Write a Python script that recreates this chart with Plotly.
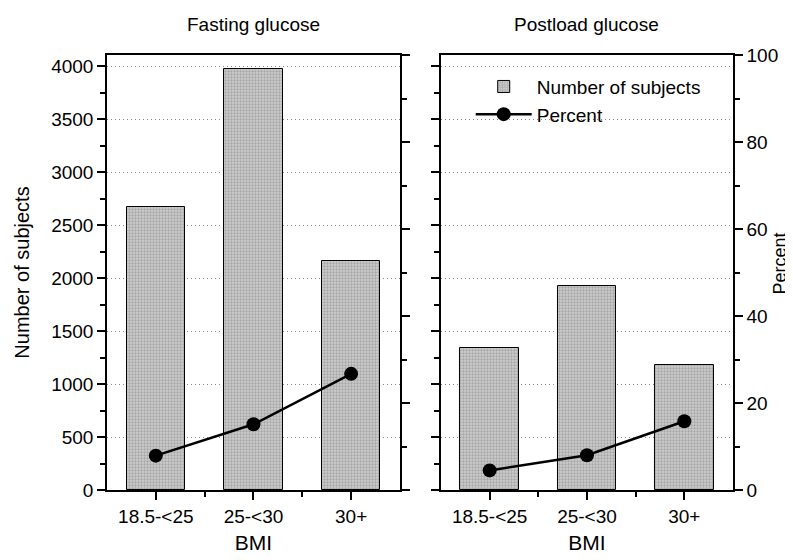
import plotly.graph_objects as go

categories = ["18.5-<25", "25-<30", "30+"]
panel_titles = ["Fasting glucose", "Postload glucose"]
counts_fasting = [2670, 3970, 2165]
counts_postload = [1340, 1925, 1180]
pct_fasting = [7.9, 15.1, 26.7]
pct_postload = [4.5, 8.0, 15.8]

xpos = list(range(len(categories)))
FONT = "Arial, Liberation Sans, sans-serif"

bar_marker = dict(
    color="#c8c8c8",
    line=dict(color="black", width=1),
    pattern=dict(shape=".", fgcolor="#7c7c7c", bgcolor="#cecece", size=3, solidity=0.45),
)
line_style = dict(color="black", width=2.5)
mk_style = dict(color="black", size=14, symbol="circle")

fig = go.Figure()
fig.add_trace(go.Bar(x=xpos, y=counts_fasting, width=0.6, marker=bar_marker,
                     name="Number of subjects", xaxis="x", yaxis="y"))
fig.add_trace(go.Scatter(x=xpos, y=pct_fasting, mode="lines+markers", line=line_style,
                         marker=mk_style, name="Percent", xaxis="x", yaxis="y2"))
fig.add_trace(go.Bar(x=xpos, y=counts_postload, width=0.6, marker=bar_marker,
                     name="Number of subjects", xaxis="x2", yaxis="y3", showlegend=False))
fig.add_trace(go.Scatter(x=xpos, y=pct_postload, mode="lines+markers", line=line_style,
                         marker=mk_style, name="Percent", xaxis="x2", yaxis="y4", showlegend=False))

tickfont = dict(family=FONT, size=19, color="black")
xcommon = dict(
    range=[-0.5, 2.5], tickmode="array", tickvals=xpos, ticktext=categories,
    ticks="outside", ticklen=8, tickwidth=1.5, tickcolor="black",
    showline=True, linecolor="black", linewidth=1.5, mirror=True,
    showgrid=False, zeroline=False, tickfont=tickfont, automargin=False,
    minor=dict(tickmode="array", tickvals=[0.5, 1.5], ticks="outside", ticklen=5,
               tickwidth=1.5, tickcolor="black", showgrid=False),
    title=dict(text="BMI", font=dict(family=FONT, size=21, color="black"), standoff=10),
)
xtop = dict(
    range=[-0.5, 2.5], tickmode="array", tickvals=xpos, showticklabels=False,
    ticks="inside", ticklen=8, tickwidth=1.5, tickcolor="black",
    showline=False, showgrid=False, zeroline=False, automargin=False, side="top",
    minor=dict(tickmode="array", tickvals=[0.5, 1.5], ticks="inside", ticklen=5,
               tickwidth=1.5, tickcolor="black", showgrid=False),
)
count_axis = dict(
    range=[0, 4104], tick0=0, dtick=500, ticks="outside", ticklen=8, tickwidth=1.5,
    tickcolor="black", showline=True, linecolor="black", linewidth=1.5,
    showgrid=True, gridcolor="#8a8a8a", griddash="1px,3px", gridwidth=1,
    zeroline=False, tickfont=tickfont, automargin=False,
    minor=dict(dtick=250, ticks="outside", ticklen=5, tickwidth=1.5, tickcolor="black", showgrid=False),
)
pct_axis = dict(
    range=[0, 100], tick0=0, dtick=20, ticks="outside", ticklen=8, tickwidth=1.5,
    tickcolor="black", showline=True, linecolor="black", linewidth=1.5,
    showgrid=False, zeroline=False, tickfont=tickfont, automargin=False,
    minor=dict(dtick=10, ticks="outside", ticklen=5, tickwidth=1.5, tickcolor="black", showgrid=False),
)

fig.update_layout(
    width=793, height=560,
    margin=dict(l=99, r=68, t=47, b=78, autoexpand=False),
    paper_bgcolor="white", plot_bgcolor="white",
    font=dict(family=FONT, size=19, color="black"),
    bargap=0,
    xaxis=dict(domain=[0, 0.468], anchor="y", **xcommon),
    xaxis2=dict(domain=[0.5335, 1], anchor="y3", **xcommon),
    xaxis3=dict(overlaying="x", anchor="y", **xtop),
    xaxis4=dict(overlaying="x2", anchor="y3", **xtop),
    yaxis=dict(anchor="x", side="left",
               title=dict(text="Number of subjects", font=dict(family=FONT, size=20, color="black"), standoff=16),
               **count_axis),
    yaxis2=dict(anchor="x", overlaying="y", side="right", showticklabels=False, **pct_axis),
    yaxis3=dict(anchor="x2", side="left", showticklabels=False, **count_axis),
    yaxis4=dict(anchor="x2", overlaying="y3", side="right", **pct_axis),
    legend=dict(x=0.581, y=0.971, xanchor="left", yanchor="top", bgcolor="rgba(0,0,0,0)",
                font=dict(family=FONT, size=19, color="black"), itemwidth=56, tracegroupgap=0),
    showlegend=True,
)

fig.add_annotation(text=panel_titles[0], xref="x domain", yref="paper", x=0.5, y=1.069,
                   xanchor="center", yanchor="middle",
                   showarrow=False, font=dict(family=FONT, size=19, color="black"))
fig.add_annotation(text=panel_titles[1], xref="x2 domain", yref="paper", x=0.5, y=1.069,
                   xanchor="center", yanchor="middle",
                   showarrow=False, font=dict(family=FONT, size=19, color="black"))
fig.add_annotation(text="Percent", xref="paper", yref="paper", x=1.0745, y=0.52,
                   xanchor="center", yanchor="middle", textangle=-90,
                   showarrow=False, font=dict(family=FONT, size=18, color="black"))

fig.write_html("out.html")
